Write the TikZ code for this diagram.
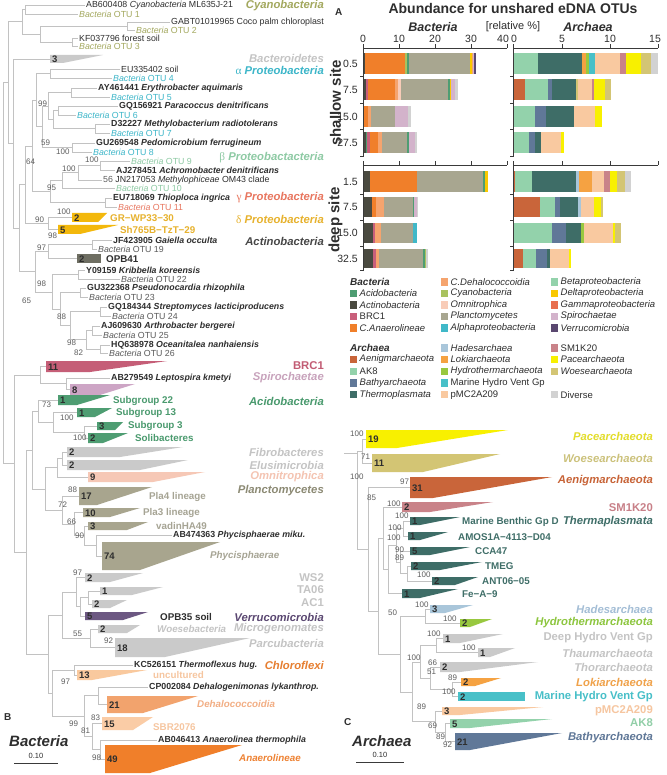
\documentclass[tikz,border=0pt]{standalone}
\usepackage{fontspec}
\setmainfont{Liberation Sans}
\newfontfamily\grk{Liberation Serif}
\definecolor{brgray}{HTML}{C2C2C2}
\definecolor{txt}{HTML}{2E2E2E}
\definecolor{bsgray}{HTML}{5E5E5E}
\definecolor{cyanoT}{HTML}{A3A85E}
\definecolor{lgrayT}{HTML}{C4C4C4}
\definecolor{lgrayF}{HTML}{CACACA}
\definecolor{alphaC}{HTML}{3CB6C9}
\definecolor{betaC}{HTML}{8ECAA4}
\definecolor{gammaC}{HTML}{E8765F}
\definecolor{deltaT}{HTML}{E7B22E}
\definecolor{deltaF}{HTML}{F3B80C}
\definecolor{actC}{HTML}{474747}
\definecolor{actT}{HTML}{5A5A5A}
\definecolor{opbF}{HTML}{6E6E62}
\definecolor{brcF}{HTML}{C55E77}
\definecolor{brcT}{HTML}{C25C74}
\definecolor{spiroF}{HTML}{CDA5C5}
\definecolor{spiroT}{HTML}{C8A3BC}
\definecolor{acidoF}{HTML}{4E9D72}
\definecolor{acidoT}{HTML}{4A9A6E}
\definecolor{omniF}{HTML}{F6C8B6}
\definecolor{omniT}{HTML}{F4C4B2}
\definecolor{planF}{HTML}{A8A58E}
\definecolor{planT}{HTML}{8C8A74}
\definecolor{vadT}{HTML}{A6A494}
\definecolor{verrF}{HTML}{6C5882}
\definecolor{verrT}{HTML}{5B4872}
\definecolor{uncF}{HTML}{F9C99E}
\definecolor{uncT}{HTML}{F6C6A0}
\definecolor{dehF}{HTML}{F2A36D}
\definecolor{dehT}{HTML}{F2AE84}
\definecolor{sbrF}{HTML}{FACCA6}
\definecolor{anaF}{HTML}{F07F2A}
\definecolor{anaT}{HTML}{EE8233}
\definecolor{chlT}{HTML}{E67E30}
\definecolor{bAcido}{HTML}{4E9D72}
\definecolor{bActino}{HTML}{4A4A40}
\definecolor{bBRC}{HTML}{C95F7B}
\definecolor{bAna}{HTML}{F07F2A}
\definecolor{bDeh}{HTML}{F5A46E}
\definecolor{bCyano}{HTML}{A9C25F}
\definecolor{bOmni}{HTML}{F8CCB8}
\definecolor{bPlan}{HTML}{A8A690}
\definecolor{bAlpha}{HTML}{40B8C8}
\definecolor{bBeta}{HTML}{93D2AB}
\definecolor{bDelta}{HTML}{F9C800}
\definecolor{bGamma}{HTML}{E86F4E}
\definecolor{bSpiro}{HTML}{D3B3CB}
\definecolor{bVerr}{HTML}{5A4870}
\definecolor{aAen}{HTML}{C9653A}
\definecolor{aAK}{HTML}{93D2AB}
\definecolor{aBat}{HTML}{607898}
\definecolor{aThe}{HTML}{3E6D67}
\definecolor{aHad}{HTML}{A9C6DA}
\definecolor{aLok}{HTML}{F5A242}
\definecolor{aHyd}{HTML}{98C83F}
\definecolor{aMHV}{HTML}{48C0C8}
\definecolor{aPMC}{HTML}{F9C9A0}
\definecolor{aSM}{HTML}{C98389}
\definecolor{aPac}{HTML}{F8F000}
\definecolor{aWoe}{HTML}{D3C574}
\definecolor{aDiv}{HTML}{D2D2D2}
\definecolor{paceT}{HTML}{E3DD2C}
\definecolor{woeT}{HTML}{CCC27C}
\definecolor{aenT}{HTML}{C86438}
\definecolor{smT}{HTML}{C88088}
\definecolor{theT}{HTML}{3F6E68}
\definecolor{hadT}{HTML}{A4BED6}
\definecolor{hydT}{HTML}{8DC63F}
\definecolor{lokT}{HTML}{F0A24A}
\definecolor{mhvT}{HTML}{47BFC8}
\definecolor{pmcT}{HTML}{F6C6A0}
\definecolor{akT}{HTML}{92CFA8}
\definecolor{batT}{HTML}{5F7797}
\definecolor{axc}{HTML}{3A3A3A}

\newcommand{\edge}[2]{\draw[br] (#1) |- (#2);}
\newcommand{\clade}[8]{%
  \fill[#7] (#2,#3) -- (#5,#3) -- (#6,#4) -- (#2,#4) -- cycle;
  \coordinate (#1) at (#2,{(#3+#4)/2});
  \node[num] at ({#2+1.8},{(#3+#4)/2+0.6}) {#8};}
\newcommand{\otu}[5]{\node[lf,text=#4] (#1) at (#2,#3) {\textit{Bacteria} OTU #5};}
\newcommand{\bsl}[3]{\node[bs] at (#1,#2) {#3};}
\newcommand{\barrow}[4]{%
  \foreach \ee/\cc [remember=\ee as \lastx (initially #3)] in {#4} {%
    \fill[fill=\cc] (\lastx,#1) rectangle (\ee,#2);}}
\newcommand{\leg}[4]{%
  \fill[#3] (#1,{#2-3.6}) rectangle ({#1+7.2},{#2+3.6});
  \node[lg] at ({#1+9.5},#2) {#4};}

\begin{document}
\begin{tikzpicture}[x=1pt,y=-1pt,
  br/.style={draw=brgray, line width=0.55pt},
  lf/.style={anchor=west, inner sep=1pt, font=\fontsize{8.8}{9}\selectfont, text=txt},
  lfb/.style={lf, font=\fontsize{8.8}{9}\selectfont\bfseries},
  bs/.style={anchor=west, inner sep=0pt, font=\fontsize{8}{8}\selectfont, text=bsgray},
  grp/.style={anchor=east, inner sep=0pt, font=\fontsize{11.3}{12}\selectfont\bfseries\itshape},
  grpu/.style={anchor=east, inner sep=0pt, font=\fontsize{11.3}{12}\selectfont\bfseries},
  sub/.style={anchor=west, inner sep=0pt, font=\fontsize{9.8}{10}\selectfont\bfseries},
  subi/.style={anchor=west, inner sep=0pt, font=\fontsize{9.8}{10}\selectfont\bfseries\itshape},
  num/.style={anchor=west, inner sep=0pt, font=\fontsize{9.5}{10}\selectfont\bfseries, text=txt},
  lg/.style={anchor=west, inner sep=0pt, font=\fontsize{9.5}{10}\selectfont, text=txt},
  axis/.style={draw=axc, line width=0.8pt},
  tk/.style={inner sep=0pt, font=\fontsize{10.5}{11}\selectfont, text=txt},
  dl/.style={inner sep=0pt, anchor=east, font=\fontsize{10.5}{11}\selectfont, text=txt},
]
\useasboundingbox (0,0) rectangle (666,775);
\fill[white] (0,0) rectangle (666,775);

%% ================= BACTERIA TREE =================
% Cyanobacteria
\node[lf] (c1) at (85,5) {AB600408 \textit{Cyanobacteria} ML635J-21};
\otu{c2}{78}{14}{cyanoT}{1}
\node[lf] (c3) at (170,22) {GABT01019965 Coco palm chloroplast};
\otu{c4}{135}{30}{cyanoT}{2}
\node[lf] (c5) at (78,38) {KF037796 forest soil};
\otu{c6}{78}{46}{cyanoT}{3}
\coordinate (nC12) at (25,9.5);
\coordinate (nC34) at (127,26);
\coordinate (nC56) at (72,42);
\coordinate (nC3456) at (40,34);
\coordinate (nCy) at (22,21.75);
\edge{nC12}{c1.west}\edge{nC12}{c2.west}
\edge{nC34}{c3.west}\edge{nC34}{c4.west}
\edge{nC56}{c5.west}\edge{nC56}{c6.west}
\edge{nC3456}{nC34}\edge{nC3456}{nC56}
\edge{nCy}{nC12}\edge{nCy}{nC3456}
\node[grp,text=cyanoT] (gCy) at (324,6) {Cyanobacteria};

% Bacteroidetes
\clade{tBac}{50}{55}{63}{103}{63}{lgrayF}{3}
\node[grp,text=lgrayT] (gBac) at (324,58) {Bacteroidetes};

% alpha
\node[lf] (a1) at (120,69) {EU335402 soil};
\otu{a2}{112}{78}{alphaC}{4}
\node[lfb] (a3) at (97,88) {AY461441 \textit{Erythrobacter aquimaris}};
\otu{a4}{110}{97}{alphaC}{5}
\node[lfb] (a5) at (118,106) {GQ156921 \textit{Paracoccus denitrificans}};
\otu{a6}{76}{115}{alphaC}{6}
\node[lfb] (a7) at (110,124) {D32227 \textit{Methylobacterium radiotolerans}};
\otu{a8}{110}{133}{alphaC}{7}
\node[lfb] (a9) at (95,143) {GU269548 \textit{Pedomicrobium ferrugineum}};
\otu{a10}{92}{152}{alphaC}{8}
\coordinate (nA1) at (50,73.5);
\coordinate (nA2) at (71,92.5);
\coordinate (nA3) at (58,110.5);
\coordinate (nA4) at (95,128.5);
\coordinate (nA5) at (72,147.5);
\coordinate (nA34) at (53,119.5);
\coordinate (nA234) at (48,106);
\coordinate (nA2345) at (42,126.75);
\coordinate (nAl) at (36,100.1);
\edge{nA1}{a1.west}\edge{nA1}{a2.west}
\edge{nA2}{a3.west}\edge{nA2}{a4.west}
\edge{nA3}{a5.west}\edge{nA3}{a6.west}
\edge{nA4}{a7.west}\edge{nA4}{a8.west}
\edge{nA5}{a9.west}\edge{nA5}{a10.west}
\edge{nA34}{nA3}\edge{nA34}{nA4}
\edge{nA234}{nA2}\edge{nA234}{nA34}
\edge{nA2345}{nA234}\edge{nA2345}{nA5}
\edge{nAl}{nA1}\edge{nAl}{nA2345}
\node[grp,text=alphaC] (gAl) at (324,70) {{\grk\mdseries\upshape α} Proteobacteria};

% beta / gamma
\otu{b1}{130}{161}{betaC}{9}
\node[lfb] (b2) at (115,170) {AJ278451 \textit{Achromobacter denitrificans}};
\node[lf] (b3) at (102,180) {{\color{bsgray}56} JN217053 \textit{Methylophiceae} OM43 clade};
\otu{b4}{115}{188}{betaC}{10}
\node[lfb] (g1) at (112,198) {EU718069 \textit{Thioploca ingrica}};
\otu{g2}{117}{207}{gammaC}{11}
\coordinate (nB1) at (100,165.5);
\coordinate (nB12) at (78,172.75);
\coordinate (nB) at (62,180.4);
\coordinate (nG) at (105,202.5);
\coordinate (nBG) at (50,191.45);
\coordinate (nPr) at (32,145.8);
\edge{nB1}{b1.west}\edge{nB1}{b2.west}
\edge{nB12}{nB1}\edge{nB12}{b3.west}
\edge{nB}{nB12}\edge{nB}{b4.west}
\edge{nG}{g1.west}\edge{nG}{g2.west}
\edge{nBG}{nB}\edge{nBG}{nG}
\edge{nPr}{nAl}\edge{nPr}{nBG}
\node[grp,text=betaC] (gBe) at (324,158) {{\grk\mdseries\upshape β} Proteobactacteria};
\node[grp,text=gammaC] (gGa) at (324,198) {{\grk\mdseries\upshape γ} Proteobacteria};

% delta
\clade{tD1}{72}{213}{222}{107}{98}{deltaF}{2}
\node[sub,text=deltaT] (sD1) at (110,218) {GR−WP33−30};
\clade{tD2}{58}{225}{234}{118}{80}{deltaF}{5}
\node[sub,text=deltaT] (sD2) at (120,230) {Sh765B−TzT−29};
\coordinate (nD) at (48,223.5);
\edge{nD}{tD1}\edge{nD}{tD2}
\node[grp,text=deltaT] (gDe) at (324,219) {{\grk\mdseries\upshape δ} Proteobacteria};

% Actinobacteria
\node[lfb] (ac1) at (112,240) {JF423905 \textit{Gaiella occulta}};
\otu{ac2}{97}{249}{actT}{19}
\clade{tOPB}{77}{254}{263}{101}{101}{opbF}{2}
\node[sub,text=txt] (sOPB) at (106,259) {OPB41};
\node[lfb] (ac3) at (85,270) {Y09159 \textit{Kribbella koreensis}};
\otu{ac4}{120}{279}{actT}{22}
\node[lfb] (ac5) at (86,288) {GU322368 \textit{Pseudonocardia rhizophila}};
\otu{ac6}{88}{297}{actT}{23}
\node[lfb] (ac7) at (107,307) {GQ184344 \textit{Streptomyces lacticiproducens}};
\otu{ac8}{111}{316}{actT}{24}
\node[lfb] (ac9) at (100,326) {AJ609630 \textit{Arthrobacter bergerei}};
\otu{ac10}{102}{335}{actT}{25}
\node[lfb] (ac11) at (110,345) {HQ638978 \textit{Oceanitalea nanhaiensis}};
\otu{ac12}{108}{353}{actT}{26}
\coordinate (nAc1) at (92,244.5);
\coordinate (nAc12) at (48,251.5);
\coordinate (nAc2) at (78,274.5);
\coordinate (nAc3) at (80,292.5);
\coordinate (nAc4) at (100,311.5);
\coordinate (nAc5) at (92,330.5);
\coordinate (nAc6) at (100,349);
\coordinate (nAc56) at (86,339.75);
\coordinate (nAc456) at (70,325.6);
\coordinate (nAc3456) at (60,309);
\coordinate (nAc23456) at (52,291.8);
\coordinate (nAc) at (35,271.6);
\edge{nAc1}{ac1.west}\edge{nAc1}{ac2.west}
\edge{nAc12}{nAc1}\edge{nAc12}{tOPB}
\edge{nAc2}{ac3.west}\edge{nAc2}{ac4.west}
\edge{nAc3}{ac5.west}\edge{nAc3}{ac6.west}
\edge{nAc4}{ac7.west}\edge{nAc4}{ac8.west}
\edge{nAc5}{ac9.west}\edge{nAc5}{ac10.west}
\edge{nAc6}{ac11.west}\edge{nAc6}{ac12.west}
\edge{nAc56}{nAc5}\edge{nAc56}{nAc6}
\edge{nAc456}{nAc4}\edge{nAc456}{nAc56}
\edge{nAc3456}{nAc3}\edge{nAc3456}{nAc456}
\edge{nAc23456}{nAc2}\edge{nAc23456}{nAc3456}
\edge{nAc}{nAc12}\edge{nAc}{nAc23456}
\node[grp,text=actC] (gAc) at (324,241) {Actinobacteria};

% upper backbone
\coordinate (nPD) at (25,184.6);
\coordinate (nPDA) at (19,228.1);
\coordinate (nRT) at (13,143.5);
\coordinate (nR1) at (8,82.6);
\edge{nPD}{nPr}\edge{nPD}{nD}
\edge{nPDA}{nPD}\edge{nPDA}{nAc}
\edge{nRT}{tBac}\edge{nRT}{nPDA}
\edge{nR1}{nCy}\edge{nR1}{nRT}

% BRC1, Spirochaetae
\clade{tBRC}{46}{361}{372}{167}{90}{brcF}{11}
\node[grpu,text=brcT] (gBRC) at (324,366) {BRC1};
\node[lfb] (sp1) at (110,378) {AB279549 \textit{Leptospira kmetyi}};
\clade{tSp}{70}{384}{395}{135}{100}{spiroF}{8}
\node[grp,text=spiroT] (gSp) at (324,378) {Spirochaetae};
\coordinate (nSp) at (66,383.75);
\coordinate (nBS) at (40,375.1);
\edge{nSp}{sp1.west}\edge{nSp}{tSp}
\edge{nBS}{tBRC}\edge{nBS}{nSp}

% Acidobacteria
\clade{tA22}{58}{395}{405}{110}{77}{acidoF}{1}
\node[sub,text=acidoT] (sA22) at (113,401) {Subgroup 22};
\clade{tA13}{77}{408}{417}{112}{95}{acidoF}{1}
\node[sub,text=acidoT] (sA13) at (116,413) {Subgroup 13};
\clade{tA3}{97}{422}{430}{123}{115}{acidoF}{3}
\node[sub,text=acidoT] (sA3) at (128,426) {Subgroup 3};
\clade{tSol}{88}{433}{443}{128}{103}{acidoF}{2}
\node[sub,text=acidoT] (sSol) at (135,438) {Solibacteres};
\node[grp,text=acidoT] (gAcd) at (324,401) {Acidobacteria};
\coordinate (nAcd1) at (84,432);
\coordinate (nAcd2) at (53,422.25);
\coordinate (nAcd) at (38,411.1);
\edge{nAcd1}{tA3}\edge{nAcd1}{tSol}
\edge{nAcd2}{tA13}\edge{nAcd2}{nAcd1}
\edge{nAcd}{tA22}\edge{nAcd}{nAcd2}

% Fibrobacteres, Elusimicrobia, Omnitrophica
\clade{tFib}{67}{447}{457}{183}{120}{lgrayF}{2}
\clade{tElu}{67}{460}{470}{188}{140}{lgrayF}{2}
\clade{tOmn}{88}{472}{482}{205}{153}{omniF}{9}
\node[grp,text=lgrayT] (gFib) at (324,452) {Fibrobacteres};
\node[grp,text=lgrayT] (gElu) at (324,465) {Elusimicrobia};
\node[grp,text=omniT] (gOmn) at (324,477) {Omnitrophica};
\coordinate (nFE) at (62,458.5);
\coordinate (nFEO) at (57,467.75);
\edge{nFE}{tFib}\edge{nFE}{tElu}
\edge{nFEO}{nFE}\edge{nFEO}{tOmn}

% Planctomycetes
\clade{tPl4}{79}{487}{505}{152}{97}{planF}{17}
\node[sub,text=vadT] (sPl4) at (149,497) {Pla4 lineage};
\clade{tPl3}{83}{508}{517}{140}{110}{planF}{10}
\node[sub,text=vadT] (sPl3) at (143,513) {Pla3 lineage};
\clade{tVad}{88}{522}{530}{148}{127}{planF}{3}
\node[sub,text=vadT] (sVad) at (156,526) {vadinHA49};
\node[lfb] (ph1) at (172,535) {AB474363 \textit{Phycisphaerae miku.}};
\clade{tPhy}{102}{542}{570}{220}{140}{planF}{74}
\node[subi,text=vadT] (sPhy) at (210,556) {Phycisphaerae};
\node[grp,text=planT] (gPl) at (324,491) {Planctomycetes};
\coordinate (nPh) at (96,545.5);
\coordinate (nVP) at (84,535.75);
\coordinate (nPl3) at (74,524.1);
\coordinate (nPl) at (62,510);
\coordinate (nPFEO) at (45,488.9);
\coordinate (nAcPFEO) at (32,450);
\edge{nPh}{ph1.west}\edge{nPh}{tPhy}
\edge{nVP}{tVad}\edge{nVP}{nPh}
\edge{nPl3}{tPl3}\edge{nPl3}{nVP}
\edge{nPl}{tPl4}\edge{nPl}{nPl3}
\edge{nPFEO}{nFEO}\edge{nPFEO}{nPl}
\edge{nAcPFEO}{nAcd}\edge{nAcPFEO}{nPFEO}

% WS2 ... Parcubacteria
\clade{tWS2}{85}{573}{582}{143}{110}{lgrayF}{2}
\clade{tTA}{100}{587}{595}{163}{132}{lgrayF}{1}
\clade{tAC1}{92}{600}{608}{127}{110}{lgrayF}{2}
\clade{tOPB35}{85}{612}{620}{148}{123}{verrF}{5}
\node[sub,text=txt] (sOPB35) at (160,617) {OPB35 soil};
\clade{tWoeB}{98}{625}{633}{140}{127}{lgrayF}{2}
\node[subi,text=lgrayT] (sWoeB) at (157,629) {Woesebacteria};
\clade{tParc}{115}{638}{657}{250}{165}{lgrayF}{18}
\node[grpu,text=lgrayT] (gWS2) at (324,578) {WS2};
\node[grpu,text=lgrayT] (gTA) at (324,590) {TA06};
\node[grpu,text=lgrayT] (gAC1) at (324,603) {AC1};
\node[grp,text=verrT] (gVer) at (324,617) {Verrucomicrobia};
\node[grp,text=lgrayT] (gMic) at (324,629) {Microgenomates};
\node[grp,text=lgrayT] (gPar) at (324,643) {Parcubacteria};
\coordinate (nTA) at (88,597.5);
\coordinate (nTAO) at (80,606.75);
\coordinate (nWT) at (76,592.1);
\coordinate (nWP) at (90,638.25);
\coordinate (nCPR) at (62,615.2);
\edge{nTA}{tTA}\edge{nTA}{tAC1}
\edge{nTAO}{nTA}\edge{nTAO}{tOPB35}
\edge{nWT}{tWS2}\edge{nWT}{nTAO}
\edge{nWP}{tWoeB}\edge{nWP}{tParc}
\edge{nCPR}{nWT}\edge{nCPR}{nWP}

% Chloroflexi
\node[lfb] (ch1) at (133,665) {KC526151 \textit{Thermoflexus hug.}};
\clade{tUnc}{77}{670}{680}{147}{92}{uncF}{13}
\node[sub,text=uncT] (sUnc) at (153,675) {uncultured};
\node[lfb] (ch2) at (148,687) {CP002084 \textit{Dehalogenimonas lykanthrop.}};
\clade{tDeh}{107}{696}{713}{198}{143}{dehF}{21}
\node[subi,text=dehT] (sDeh) at (197,704) {Dehalococcoidia};
\clade{tSBR}{102}{717}{730}{153}{133}{sbrF}{15}
\node[sub,text=uncT] (sSBR) at (153,727) {SBR2076};
\node[lfb] (ch3) at (157,740) {AB046413 \textit{Anaerolinea thermophila}};
\clade{tAna}{105}{745}{773}{242}{150}{anaF}{49}
\node[subi,text=anaT] (sAna) at (239,758) {Anaerolineae};
\node[grp,text=chlT] (gChl) at (324,665) {Chloroflexi};
\coordinate (nCh1) at (74,670);
\coordinate (nDh) at (98,695.75);
\coordinate (nAn) at (100,749.5);
\coordinate (nSA) at (92,736.5);
\coordinate (nDSA) at (84,716.1);
\coordinate (nChl) at (52,693);
\coordinate (nCPRCh) at (48,654.1);
\edge{nCh1}{ch1.west}\edge{nCh1}{tUnc}
\edge{nDh}{ch2.west}\edge{nDh}{tDeh}
\edge{nAn}{ch3.west}\edge{nAn}{tAna}
\edge{nSA}{tSBR}\edge{nSA}{nAn}
\edge{nDSA}{nDh}\edge{nDSA}{nSA}
\edge{nChl}{nCh1}\edge{nChl}{nDSA}
\edge{nCPRCh}{nCPR}\edge{nCPRCh}{nChl}

% lower backbone and root
\coordinate (nLowB) at (26,552);
\coordinate (nLow) at (14,463.5);
\coordinate (rootB) at (3,273);
\edge{nLowB}{nAcPFEO}\edge{nLowB}{nCPRCh}
\edge{nLow}{nBS}\edge{nLow}{nLowB}
\edge{rootB}{nR1}\edge{rootB}{nLow}

% bootstrap values (Bacteria)
\bsl{38}{104}{99}\bsl{41}{143}{59}\bsl{56}{152}{100}\bsl{26}{162}{64}
\bsl{85}{160}{100}\bsl{62}{169}{100}\bsl{47}{188}{95}\bsl{57}{212}{100}
\bsl{35}{220}{90}\bsl{48}{236}{98}\bsl{37}{248}{97}\bsl{37}{284}{98}
\bsl{22}{301}{65}\bsl{57}{317}{88}\bsl{67}{343}{98}\bsl{74}{353}{82}
\bsl{42}{405}{73}\bsl{60}{418}{100}\bsl{73}{438}{100}\bsl{68}{490}{88}
\bsl{58}{505}{72}\bsl{67}{522}{66}\bsl{75}{536}{90}\bsl{73}{573}{97}
\bsl{73}{634}{55}\bsl{104}{641}{92}\bsl{61}{682}{97}\bsl{69}{724}{99}
\bsl{91}{718}{83}\bsl{81}{731}{81}\bsl{92}{758}{98}

% panel B labels
\node[anchor=west,inner sep=0pt,font=\fontsize{10}{10}\selectfont\bfseries,text=txt] (lB) at (4,717) {B};
\node[anchor=west,inner sep=0pt,font=\fontsize{15}{15}\selectfont\bfseries\itshape,text=txt] (lBac) at (9,741) {Bacteria};
\node[inner sep=0pt,font=\fontsize{7.5}{8}\selectfont,text=txt] (sbB) at (36,756) {0.10};
\coordinate (sbB1) at (14,763); \coordinate (sbB2) at (58,763);
\draw[draw=axc,line width=0.6pt] (sbB1) -- (sbB2);

%% ================= PANEL A : BARS =================
\node[anchor=west,inner sep=0pt,font=\fontsize{10}{10}\selectfont\bfseries,text=txt] (lA) at (335,12) {A};
\node[inner sep=0pt,font=\fontsize{14}{14}\selectfont\bfseries,text=txt] (ttl) at (513,9) {Abundance for unshared eDNA OTUs};
\node[inner sep=0pt,font=\fontsize{12.5}{13}\selectfont\bfseries\itshape,text=txt] (hB) at (433,27) {Bacteria};
\node[inner sep=0pt,font=\fontsize{11}{11}\selectfont,text=txt] (hR) at (513,27) {[relative \%]};
\node[inner sep=0pt,font=\fontsize{12.5}{13}\selectfont\bfseries\itshape,text=txt] (hA) at (588,27) {Archaea};
% tick labels
\node[tk] at (363,39) {0};\node[tk] at (399,39) {10};\node[tk] at (435,39) {20};
\node[tk] at (471,39) {30};\node[tk] at (503,39) {40};\node[tk] at (514,39) {0};
\node[tk] at (562,39) {5};\node[tk] at (610,39) {10};\node[tk] at (655,39) {15};

% bacteria bars shallow
\barrow{53}{74}{363}{365/bActino,405/bAna,407/bCyano,408.5/bAcido,470/bPlan,472/bDelta,473/bDeh,474/bSpiro,476/bVerr}
\barrow{79}{100}{363}{366/bActino,367.5/bBRC,395/bAna,398/bDeh,401/bOmni,448/bPlan,449.5/bAcido,450.5/bDelta,455/bSpiro,458/aDiv}
\barrow{106}{127}{363}{368/bAna,371/bDeh,395/bPlan,408/bSpiro,411/aDiv}
\barrow{132}{153}{363}{366/bActino,367/bAcido,369.5/bBRC,378/bAna,382/bDeh,407/bPlan,409/bAcido,415/bSpiro,417/aDiv}
% bacteria bars deep
\barrow{171}{192}{363}{370/bActino,417/bAna,483/bPlan,484.5/bAcido,488/bDelta}
\barrow{197}{217}{363}{372/bActino,376/bAna,384/bDeh,413/bPlan,414/bAcido,417/bSpiro,418/aDiv}
\barrow{223}{243}{363}{373/bActino,374.5/bBRC,381/bDeh,413/bPlan,417/bAlpha}
\barrow{249}{268}{363}{373/bActino,375.5/bBRC,379/bDeh,423/bPlan,424.5/bAcido,426/bCyano,428/aDiv}
% archaea bars shallow
\barrow{53}{74}{513}{538/aAK,582/aThe,586/aLok,589/aHyd,595/aMHV,620/aPMC,626/aSM,641/aPac,651/aWoe,658/aDiv}
\barrow{79}{100}{513}{525/aAen,548/aAK,552/aBat,576/aThe,578/aWoe,592/aPMC,594/aSM,605/aPac,611/aWoe}
\barrow{106}{127}{513}{535/aAK,546/aBat,574/aThe,595/aPMC,602/aPac}
\barrow{132}{153}{513}{514/aAen,529/aAK,535/aBat,541/aThe,561/aPMC,564/aPac}
% archaea bars deep
\barrow{171}{192}{513}{515/aAen,532/aAK,576/aThe,579/aHad,592/aLok,604/aPMC,610/aSM,617/aPac,625/aWoe,631/aDiv}
\barrow{197}{217}{513}{540/aAen,555/aAK,560/aBat,578/aThe,581/aHad,594/aPMC,601/aPac,603/aWoe}
\barrow{223}{243}{513}{552/aAK,566/aBat,581/aThe,584/aHyd,613/aPMC,615/aPac,621/aWoe}
\barrow{249}{268}{513}{523/aAen,536/aAK,547/aBat,550/aThe,569/aPMC,571/aPac}

% axes
\draw[axis] (363,157) -- (363,48) -- (507,48);
\draw[axis] (513,157) -- (513,48) -- (658,48);
\draw[axis] (363,271) -- (363,165) -- (507,165);
\draw[axis] (513,271) -- (513,165) -- (658,165);
\foreach \xx in {363,399,435,471,507,513,562,610,658} {
  \draw[axis] (\xx,48) -- (\xx,44.5);
  \draw[axis] (\xx,165) -- (\xx,161.5);}
\foreach \yy in {76.5,103,129.5,156,194.5,220,246,270.5} {
  \draw[axis] (363,\yy) -- (360,\yy);
  \draw[axis] (513,\yy) -- (510,\yy);}
% depth labels
\node[dl] (d1) at (358,63.5) {0.5};
\node[dl] (d2) at (358,89.5) {7.5};
\node[dl] (d3) at (358,116.5) {15.0};
\node[dl] (d4) at (358,142.5) {27.5};
\node[dl] (d5) at (358,181.5) {1.5};
\node[dl] (d6) at (358,207) {7.5};
\node[dl] (d7) at (358,233) {15.0};
\node[dl] (d8) at (358,258.5) {32.5};
\node[inner sep=0pt,rotate=90,font=\fontsize{15}{15}\selectfont\bfseries,text=txt] (lsh) at (335.5,103) {shallow site};
\node[inner sep=0pt,rotate=90,font=\fontsize{15}{15}\selectfont\bfseries,text=txt] (ldp) at (335.5,220) {deep site};

% legend
\node[lg,font=\fontsize{10}{10}\selectfont\bfseries\itshape] (legB) at (350,282) {Bacteria};
\leg{350}{293.5}{bAcido}{\textit{Acidobacteria}}
\leg{350}{305}{bActino}{\textit{Actinobacteria}}
\leg{350}{316.5}{bBRC}{BRC1}
\leg{350}{328}{bAna}{\textit{C.Anaerolineae}}
\leg{441}{282}{bDeh}{\textit{C.Dehalococcoidia}}
\leg{441}{293.5}{bCyano}{\textit{Cyanobacteria}}
\leg{441}{305}{bOmni}{\textit{Omnitrophica}}
\leg{441}{316.5}{bPlan}{\textit{Planctomycetes}}
\leg{441}{328}{bAlpha}{\textit{Alphaproteobacteria}}
\leg{551}{282}{bBeta}{\textit{Betaproteobacteria}}
\leg{551}{293.5}{bDelta}{\textit{Deltaproteobacteria}}
\leg{551}{305}{bGamma}{\textit{Gammaproteobacteria}}
\leg{551}{316.5}{bSpiro}{\textit{Spirochaetae}}
\leg{551}{328}{bVerr}{\textit{Verrucomicrobia}}
\node[lg,font=\fontsize{10}{10}\selectfont\bfseries\itshape] (legA) at (350,348) {Archaea};
\leg{350}{359.5}{aAen}{\textit{Aenigmarchaeota}}
\leg{350}{371.2}{aAK}{AK8}
\leg{350}{383}{aBat}{\textit{Bathyarchaeota}}
\leg{350}{394.8}{aThe}{\textit{Thermoplasmata}}
\leg{441}{348}{aHad}{\textit{Hadesarchaea}}
\leg{441}{359.5}{aLok}{\textit{Lokiarchaeota}}
\leg{441}{371.2}{aHyd}{\textit{Hydrothermarchaeota}}
\leg{441}{383}{aMHV}{Marine Hydro Vent Gp}
\leg{441}{394.8}{aPMC}{pMC2A209}
\leg{551}{348}{aSM}{SM1K20}
\leg{551}{359.5}{aPac}{\textit{Pacearchaeota}}
\leg{551}{371.2}{aWoe}{\textit{Woesearchaeota}}
\leg{551}{394.8}{aDiv}{Diverse}

%% ================= ARCHAEA TREE =================
\clade{tPace}{366}{430}{448}{508}{397}{aPac}{19}
\clade{tWoeA}{372}{454}{472}{500}{423}{aWoe}{11}
\clade{tAen}{410}{477}{498}{552}{433}{aAen}{31}
\clade{tSM}{402}{502}{512}{493}{430}{aSM}{2}
\clade{tMBG}{410}{517}{525}{460}{420}{aThe}{1}
\clade{tAMOS}{408}{532}{540}{448}{420}{aThe}{1}
\clade{tCCA}{410}{547}{555}{470}{430}{aThe}{5}
\clade{tTMEG}{411}{562}{570}{482}{440}{aThe}{2}
\clade{tANT}{432}{577}{585}{478}{455}{aThe}{2}
\clade{tFe}{402}{589}{598}{458}{420}{aThe}{1}
\clade{tHad}{430}{605}{613}{473}{445}{aHad}{3}
\clade{tHyd}{460}{619}{627}{492}{470}{aHyd}{2}
\clade{tDHV}{443}{634}{643}{503}{460}{lgrayF}{1}
\clade{tTha}{478}{648}{657}{515}{490}{lgrayF}{1}
\clade{tTho}{440}{662}{672}{538}{460}{lgrayF}{2}
\clade{tLok}{461}{678}{686}{501}{475}{aLok}{2}
\clade{tMHV}{458}{692}{701}{525}{525}{aMHV}{2}
\clade{tPMC}{442}{707}{715}{543}{460}{aPMC}{3}
\clade{tAK}{450}{719}{728}{552}{470}{aAK}{5}
\clade{tBat}{455}{733}{750}{562}{470}{aBat}{21}

\node[sub,text=theT] (sMBG) at (462,522) {Marine Benthic Gp D};
\node[sub,text=theT] (sAMOS) at (458,537) {AMOS1A−4113−D04};
\node[sub,text=theT] (sCCA) at (475,551) {CCA47};
\node[sub,text=theT] (sTMEG) at (485,566) {TMEG};
\node[sub,text=theT] (sANT) at (482,581) {ANT06−05};
\node[sub,text=theT] (sFe) at (462,594) {Fe−A−9};

\node[grp,text=paceT] (gPac) at (653,436) {Pacearchaeota};
\node[grp,text=woeT] (gWoeA) at (653,458) {Woesearchaeota};
\node[grp,text=aenT] (gAen) at (653,481) {Aenigmarchaeota};
\node[grpu,text=smT] (gSM) at (653,508) {SM1K20};
\node[grp,text=theT] (gThe) at (653,522) {Thermaplasmata};
\node[grp,text=hadT] (gHad) at (653,609) {Hadesarchaea};
\node[grp,text=hydT] (gHyd) at (653,623) {Hydrothermarchaeota};
\node[grpu,text=lgrayT] (gDHV) at (653,638) {Deep Hydro Vent Gp};
\node[grp,text=lgrayT] (gTha) at (653,653) {Thaumarchaeota};
\node[grp,text=lgrayT] (gTho) at (653,667) {Thorarchaeota};
\node[grp,text=lokT] (gLok) at (653,682) {Lokiarchaeota};
\node[grpu,text=mhvT] (gMHV) at (653,697) {Marine Hydro Vent Gp};
\node[grpu,text=pmcT] (gPMC) at (653,711) {pMC2A209};
\node[grpu,text=akT] (gAK) at (653,723) {AK8};
\node[grp,text=batT] (gBat) at (653,738) {Bathyarchaeota};

\coordinate (nPW) at (362,451);
\coordinate (nT1) at (403,528.5);
\coordinate (nT2) at (407,573.5);
\coordinate (nT3) at (400,562.25);
\coordinate (nT4) at (396,545.4);
\coordinate (nT5) at (388,569.4);
\coordinate (nSMT) at (383,538);
\coordinate (nHH) at (425,616);
\coordinate (nDT) at (436,645.5);
\coordinate (nLM) at (452,689.25);
\coordinate (nTLM) at (430,678.1);
\coordinate (nDTL) at (420,661.8);
\coordinate (nAB) at (445,732.5);
\coordinate (nPAB) at (435,721.75);
\coordinate (nDP) at (412,691.8);
\coordinate (nHD) at (400,653.9);
\coordinate (nEu) at (378,611.6);
\coordinate (nAE) at (368,549.6);
\coordinate (rootA) at (357,453);
\coordinate (stemA) at (344,453);
\edge{nPW}{tPace}\edge{nPW}{tWoeA}
\edge{nT1}{tMBG}\edge{nT1}{tAMOS}
\edge{nT2}{tTMEG}\edge{nT2}{tANT}
\edge{nT3}{tCCA}\edge{nT3}{nT2}
\edge{nT4}{nT1}\edge{nT4}{nT3}
\edge{nT5}{nT4}\edge{nT5}{tFe}
\edge{nSMT}{tSM}\edge{nSMT}{nT5}
\edge{nHH}{tHad}\edge{nHH}{tHyd}
\edge{nDT}{tDHV}\edge{nDT}{tTha}
\edge{nLM}{tLok}\edge{nLM}{tMHV}
\edge{nTLM}{tTho}\edge{nTLM}{nLM}
\edge{nDTL}{nDT}\edge{nDTL}{nTLM}
\edge{nAB}{tAK}\edge{nAB}{tBat}
\edge{nPAB}{tPMC}\edge{nPAB}{nAB}
\edge{nDP}{nDTL}\edge{nDP}{nPAB}
\edge{nHD}{nHH}\edge{nHD}{nDP}
\edge{nEu}{nSMT}\edge{nEu}{nHD}
\edge{nAE}{tAen}\edge{nAE}{nEu}
\edge{rootA}{nPW}\edge{rootA}{nAE}
\draw[br] (stemA) -- (rootA);

% bootstrap values (Archaea)
\bsl{350}{434}{100}\bsl{361}{457}{71}\bsl{350}{477}{100}\bsl{400}{482}{97}
\bsl{367}{498}{85}\bsl{387}{504}{100}\bsl{395}{516}{100}\bsl{388}{528}{100}
\bsl{387}{538}{100}\bsl{395}{550}{90}\bsl{395}{558}{89}\bsl{417}{575}{100}
\bsl{415}{605}{100}\bsl{388}{613}{50}\bsl{443}{619}{100}\bsl{427}{634}{100}
\bsl{462}{648}{100}\bsl{407}{658}{100}\bsl{428}{663}{66}\bsl{427}{672}{51}
\bsl{448}{678}{89}\bsl{442}{692}{100}\bsl{417}{707}{89}\bsl{428}{726}{69}
\bsl{436}{737}{89}\bsl{443}{745}{92}

% panel C labels
\node[anchor=west,inner sep=0pt,font=\fontsize{10}{10}\selectfont\bfseries,text=txt] (lC) at (344,722) {C};
\node[anchor=west,inner sep=0pt,font=\fontsize{15}{15}\selectfont\bfseries\itshape,text=txt] (lArc) at (352,741) {Archaea};
\node[inner sep=0pt,font=\fontsize{7.5}{8}\selectfont,text=txt] (sbA) at (380,755) {0.10};
\coordinate (sbA1) at (356,762); \coordinate (sbA2) at (404,762);
\draw[draw=axc,line width=0.6pt] (sbA1) -- (sbA2);
\end{tikzpicture}
\end{document}
